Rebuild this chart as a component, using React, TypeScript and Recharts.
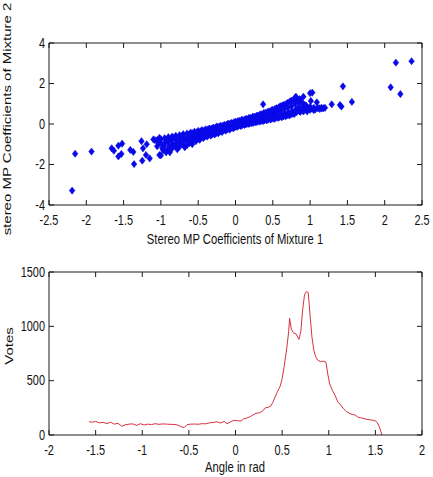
import React from "react";
import {
  ScatterChart,
  Scatter,
  LineChart,
  Line,
  XAxis,
  YAxis,
  ReferenceLine,
} from "recharts";

// ---- data ----

// top: stereo MP coefficients, mixture 1 (x) vs mixture 2 (y)
const outlierPoints: [number, number][] = [
  [-2.19, -3.29], [-2.15, -1.47], [-1.93, -1.36], [-1.66, -1.2], [-1.63, -1.32],
  [-1.57, -1.07], [-1.52, -0.97], [-1.57, -1.6], [-1.53, -1.48], [-1.41, -1.28],
  [-1.37, -1.38], [-1.36, -1.98], [-1.26, -0.85], [-1.24, -1.2], [-1.2, -1.53],
  [-1.25, -1.81], [-1.15, -1.7], [-1.19, -1.0], [-1.1, -0.76], [-1.08, -0.8],
  [-1.02, -1.53], [0.37, 0.97], [0.81, 1.35], [0.86, 1.23], [0.91, 1.35],
  [1.0, 1.52], [1.03, 1.55], [1.01, 1.14], [1.09, 1.07], [1.12, 0.78],
  [1.16, 0.77], [1.29, 0.97], [1.4, 0.94], [1.42, 0.86], [1.44, 1.86],
  [1.56, 1.09], [2.08, 1.81], [2.15, 3.03], [2.21, 1.48], [2.36, 3.1],
];

const bandPoints: [number, number][] = [
  [-1.05, -0.8], [-1.05, -1.1], [-1.03, -0.95],
  [-1.0, -0.75], [-0.99, -1.0], [-1.0, -1.55], [-0.98, -1.2],
  [-0.95, -0.7], [-0.94, -0.9], [-0.96, -1.1], [-0.93, -1.4],
  [-0.9, -0.65], [-0.9, -0.85], [-0.89, -1.05], [-0.91, -1.25],
  [-0.85, -0.62], [-0.86, -0.8], [-0.84, -1.0], [-0.85, -1.2],
  [-0.8, -0.58], [-0.8, -0.75], [-0.79, -0.92], [-0.81, -1.08],
  [-0.75, -0.55], [-0.74, -0.7], [-0.76, -0.88], [-0.75, -1.12],
  [-0.7, -0.5], [-0.7, -0.66], [-0.69, -0.82], [-0.71, -0.98],
  [-0.65, -0.47], [-0.64, -0.62], [-0.66, -0.78], [-0.65, -1.05],
  [-0.6, -0.42], [-0.6, -0.57], [-0.59, -0.72], [-0.61, -0.88],
  [-0.55, -0.38], [-0.55, -0.52], [-0.54, -0.66], [-0.56, -0.8],
  [-0.5, -0.34], [-0.5, -0.48], [-0.49, -0.6], [-0.51, -0.74],
  [-0.45, -0.3], [-0.45, -0.42], [-0.44, -0.55], [-0.46, -0.66],
  [-0.4, -0.26], [-0.4, -0.38], [-0.39, -0.5], [-0.41, -0.6],
  [-0.35, -0.22], [-0.35, -0.33], [-0.34, -0.44], [-0.36, -0.55],
  [-0.3, -0.18], [-0.3, -0.29], [-0.29, -0.4], [-0.31, -0.5],
  [-0.25, -0.12], [-0.25, -0.24], [-0.24, -0.35], [-0.26, -0.45],
  [-0.2, -0.08], [-0.2, -0.19], [-0.19, -0.3], [-0.21, -0.38],
  [-0.15, -0.04], [-0.15, -0.14], [-0.14, -0.24], [-0.16, -0.32],
  [-0.1, 0.02], [-0.1, -0.09], [-0.09, -0.18], [-0.11, -0.26],
  [-0.05, 0.06], [-0.05, -0.04], [-0.04, -0.13], [-0.06, -0.2],
  [0.0, 0.12], [0.0, 0.01], [0.01, -0.08], [-0.01, -0.16],
  [0.05, 0.16], [0.05, 0.06], [0.06, -0.03], [0.04, -0.1],
  [0.1, 0.2], [0.1, 0.1], [0.11, 0.02], [0.09, -0.06],
  [0.15, 0.25], [0.15, 0.15], [0.16, 0.06], [0.14, -0.02],
  [0.2, 0.3], [0.2, 0.2], [0.21, 0.1], [0.19, 0.02],
  [0.25, 0.36], [0.25, 0.25], [0.26, 0.15], [0.24, 0.06],
  [0.3, 0.42], [0.3, 0.3], [0.31, 0.19], [0.29, 0.1],
  [0.35, 0.48], [0.35, 0.35], [0.36, 0.24], [0.34, 0.14],
  [0.4, 0.55], [0.4, 0.41], [0.41, 0.29], [0.39, 0.18],
  [0.45, 0.62], [0.45, 0.47], [0.46, 0.33], [0.44, 0.22],
  [0.5, 0.7], [0.5, 0.53], [0.51, 0.38], [0.49, 0.26],
  [0.55, 0.78], [0.55, 0.6], [0.56, 0.43], [0.54, 0.3],
  [0.6, 0.88], [0.6, 0.66], [0.61, 0.48], [0.59, 0.34],
  [0.65, 0.95], [0.65, 0.73], [0.66, 0.53], [0.64, 0.38],
  [0.7, 1.05], [0.7, 0.8], [0.71, 0.58], [0.69, 0.42],
  [0.75, 1.15], [0.75, 0.88], [0.76, 0.64], [0.74, 0.46],
  [0.8, 1.3], [0.8, 1.0], [0.81, 0.72], [0.79, 0.5],
  [0.85, 1.1], [0.85, 0.85], [0.86, 0.62],
  [0.9, 1.0], [0.9, 0.8], [0.91, 0.62],
  [0.95, 0.9], [0.95, 0.72], [0.96, 0.62],
  [1.0, 0.85], [1.0, 0.7],
  [1.05, 0.8], [1.05, 0.68],
  [1.1, 0.78], [1.15, 0.8], [1.2, 0.8],
];

// in-between points that thicken the band
const bandFillPoints: [number, number][] = [
  [-1.02, -0.68], [-0.97, -1.3], [-0.92, -0.78], [-0.88, -1.4], [-0.82, -0.66],
  [-0.78, -1.25], [-0.72, -0.6], [-0.68, -1.15], [-0.63, -0.52], [-0.62, -0.95],
  [-0.57, -0.45], [-0.58, -1.0], [-0.52, -0.41], [-0.53, -0.85], [-0.47, -0.36],
  [-0.48, -0.78], [-0.42, -0.32], [-0.43, -0.7], [-0.37, -0.27], [-0.38, -0.62],
  [-0.32, -0.23], [-0.33, -0.58], [-0.27, -0.17], [-0.28, -0.52], [-0.22, -0.13],
  [-0.23, -0.46], [-0.17, -0.09], [-0.18, -0.4], [-0.12, -0.03], [-0.13, -0.33],
  [-0.07, 0.03], [-0.08, -0.28], [-0.02, 0.08], [-0.03, -0.22], [0.03, 0.14],
  [0.02, -0.14], [0.08, 0.2], [0.07, -0.1], [0.13, 0.24], [0.12, -0.05],
  [0.18, 0.3], [0.17, 0.0], [0.23, 0.36], [0.22, 0.04], [0.28, 0.4],
  [0.27, 0.08], [0.33, 0.48], [0.32, 0.12], [0.38, 0.55], [0.37, 0.14],
  [0.43, 0.6], [0.42, 0.18], [0.48, 0.68], [0.47, 0.22], [0.53, 0.75],
  [0.52, 0.25], [0.58, 0.82], [0.57, 0.3], [0.63, 0.92], [0.62, 0.33],
  [0.68, 1.0], [0.67, 0.37], [0.73, 1.12], [0.72, 0.42], [0.78, 1.2],
  [0.77, 0.5], [0.83, 1.22], [0.82, 0.58], [0.88, 1.12], [0.87, 0.6],
  [0.93, 0.95], [0.97, 0.78], [1.02, 0.76], [1.07, 0.72], [1.13, 0.74],
  [1.18, 0.78],
];

const scatterXTicks = [-2.5, -2, -1.5, -1, -0.5, 0, 0.5, 1, 1.5, 2, 2.5];
const scatterYTicks = [-4, -2, 0, 2, 4];

// bottom: vote histogram over angle
const angles = [
  -1.57, -1.53, -1.5, -1.46, -1.42, -1.38, -1.34, -1.3, -1.26, -1.22,
  -1.18, -1.14, -1.1, -1.06, -1.02, -0.98, -0.94, -0.9, -0.86, -0.82,
  -0.78, -0.74, -0.7, -0.66, -0.62, -0.58, -0.55, -0.52, -0.48, -0.44,
  -0.4, -0.36, -0.32, -0.28, -0.24, -0.2, -0.16, -0.12, -0.09, -0.06,
  -0.02, 0.02, 0.06, 0.09, 0.12, 0.16, 0.19, 0.22, 0.26, 0.29,
  0.32, 0.35, 0.38, 0.4, 0.42, 0.45, 0.48, 0.5, 0.52, 0.55,
  0.57, 0.58, 0.6, 0.62, 0.65, 0.68, 0.7, 0.72, 0.74, 0.76,
  0.78, 0.8, 0.82, 0.84, 0.86, 0.88, 0.91, 0.94, 0.97, 0.99,
  1.01, 1.04, 1.07, 1.1, 1.13, 1.16, 1.19, 1.22, 1.25, 1.28,
  1.31, 1.34, 1.38, 1.42, 1.46, 1.5, 1.52, 1.54, 1.56, 1.57,
];
const votes = [
  122, 118, 125, 112, 116, 105, 118, 100, 108, 80,
  95, 100, 102, 88, 104, 92, 100, 96, 104, 98,
  102, 100, 98, 97, 92, 75, 68, 95, 100, 101,
  99, 104, 103, 112, 115, 122, 110, 125, 103, 118,
  135, 132, 128, 150, 155, 170, 185, 200, 205, 220,
  250, 255, 268, 300, 340, 400, 450, 520, 620, 800,
  950, 1075, 970, 940, 930, 880, 950, 1150, 1290, 1320,
  1310, 1100, 900, 780, 720, 690, 675, 680, 670, 560,
  470, 410, 360, 300, 275, 240, 215, 200, 190, 185,
  165, 160, 150, 142, 138, 130, 115, 80, 30, 0,
];

const angleTicks = [-2, -1.5, -1, -0.5, 0, 0.5, 1, 1.5, 2];
const voteTicks = [0, 500, 1000, 1500];

// ---- look ----
const FONT = "'Liberation Sans', Arial, Helvetica, sans-serif";
const SQUEEZE = 0.75; // the original image is squashed horizontally
const AXIS = "#1a1a1a";
const BLUE = "#0808e8";
const RED = "#d83040";
const W = 433;
const PLOT_W = 373;
const TICK_LEN = 5;
const X_GAP = 20; // axis line -> tick label baseline
const Y_GAP = 4; // axis line -> tick label right edge

// x tick label + inward tick marks on the bottom and top edges
function BottomTick({ x, y, payload, plotH }: any) {
  const axisY = y - X_GAP;
  const topY = axisY - plotH;
  return (
    <g>
      <line x1={x} x2={x} y1={axisY} y2={axisY - TICK_LEN} stroke={AXIS} />
      <line x1={x} x2={x} y1={topY} y2={topY + TICK_LEN} stroke={AXIS} />
      <text
        transform={`translate(${x},${y}) scale(0.78,1)`}
        textAnchor="middle"
        fontSize={14}
        fontFamily={FONT}
        fill="#111"
      >
        {String(payload.value)}
      </text>
    </g>
  );
}

// y tick label + inward tick marks on the left and right edges
function LeftTick({ x, y, payload }: any) {
  const axisX = x + Y_GAP;
  const rightX = axisX + PLOT_W;
  return (
    <g>
      <line x1={axisX} x2={axisX + TICK_LEN} y1={y} y2={y} stroke={AXIS} />
      <line x1={rightX} x2={rightX - TICK_LEN} y1={y} y2={y} stroke={AXIS} />
      <text
        transform={`translate(${x},${y + 4.5}) scale(0.78,1)`}
        textAnchor="end"
        fontSize={14}
        fontFamily={FONT}
        fill="#111"
      >
        {String(payload.value)}
      </text>
    </g>
  );
}

function Diamond({ cx, cy }: any) {
  if (cx == null || cy == null) return null;
  return (
    <path
      d={`M${cx},${cy - 3.6} L${cx + 2.8},${cy} L${cx},${cy + 3.6} L${cx - 2.8},${cy} Z`}
      fill={BLUE}
      stroke={BLUE}
      strokeWidth={0.5}
    />
  );
}

function ScatterPanel() {
  const data = [...bandPoints, ...bandFillPoints, ...outlierPoints].map(([x, y]) => ({ x, y }));
  return (
    <ScatterChart width={W} height={255} margin={{ top: 43, right: 11, bottom: 20, left: 9 }}>
      <XAxis
        type="number"
        dataKey="x"
        domain={[-2.5, 2.5]}
        ticks={scatterXTicks}
        interval={0}
        height={30}
        tickLine={false}
        tickSize={0}
        tickMargin={X_GAP}
        tick={<BottomTick plotH={162} />}
        stroke={AXIS}
      />
      <YAxis
        type="number"
        dataKey="y"
        domain={[-4, 4]}
        ticks={scatterYTicks}
        interval={0}
        width={40}
        tickLine={false}
        tickSize={0}
        tickMargin={Y_GAP}
        tick={<LeftTick />}
        stroke={AXIS}
      />
      <ReferenceLine y={4} stroke={AXIS} ifOverflow="visible" />
      <ReferenceLine x={2.5} stroke={AXIS} ifOverflow="visible" />
      <Scatter data={data} shape={<Diamond />} isAnimationActive={false} />
    </ScatterChart>
  );
}

function VotesPanel() {
  const data = angles.map((a, i) => ({ angle: a, votes: votes[i] }));
  return (
    <LineChart width={W} height={227} data={data} margin={{ top: 22, right: 11, bottom: 12, left: 9 }}>
      <XAxis
        type="number"
        dataKey="angle"
        domain={[-2, 2]}
        ticks={angleTicks}
        interval={0}
        height={30}
        tickLine={false}
        tickSize={0}
        tickMargin={X_GAP}
        tick={<BottomTick plotH={163} />}
        stroke={AXIS}
      />
      <YAxis
        type="number"
        domain={[0, 1500]}
        ticks={voteTicks}
        interval={0}
        width={40}
        tickLine={false}
        tickSize={0}
        tickMargin={Y_GAP}
        tick={<LeftTick />}
        stroke={AXIS}
      />
      <ReferenceLine y={1500} stroke={AXIS} ifOverflow="visible" />
      <ReferenceLine x={2} stroke={AXIS} ifOverflow="visible" />
      <Line
        type="linear"
        dataKey="votes"
        stroke={RED}
        strokeWidth={1}
        dot={false}
        isAnimationActive={false}
      />
    </LineChart>
  );
}

export default function App() {
  const title = { fontSize: 15, fontFamily: FONT, fill: "#111" };
  return (
    <div style={{ position: "absolute", left: 0, top: 0, width: W, height: 477, background: "#fff" }}>
      <div style={{ position: "absolute", left: 0, top: 0 }}>
        <ScatterPanel />
      </div>
      <div style={{ position: "absolute", left: 0, top: 250 }}>
        <VotesPanel />
      </div>
      <svg
        width={W}
        height={477}
        style={{ position: "absolute", left: 0, top: 0, pointerEvents: "none" }}
      >
        <text transform={`translate(235,244) scale(${SQUEEZE},1)`} textAnchor="middle" {...title}>
          Stereo MP Coefficients of Mixture 1
        </text>
        <text transform={`translate(11,119) scale(${SQUEEZE},1) rotate(-90)`} textAnchor="middle" {...title}>
          stereo MP Coefficients of Mixture 2
        </text>
        <text transform={`translate(235,472) scale(${SQUEEZE},1)`} textAnchor="middle" {...title}>
          Angle in rad
        </text>
        <text transform={`translate(13,346) scale(${SQUEEZE},1) rotate(-90)`} textAnchor="middle" {...title}>
          Votes
        </text>
      </svg>
    </div>
  );
}
